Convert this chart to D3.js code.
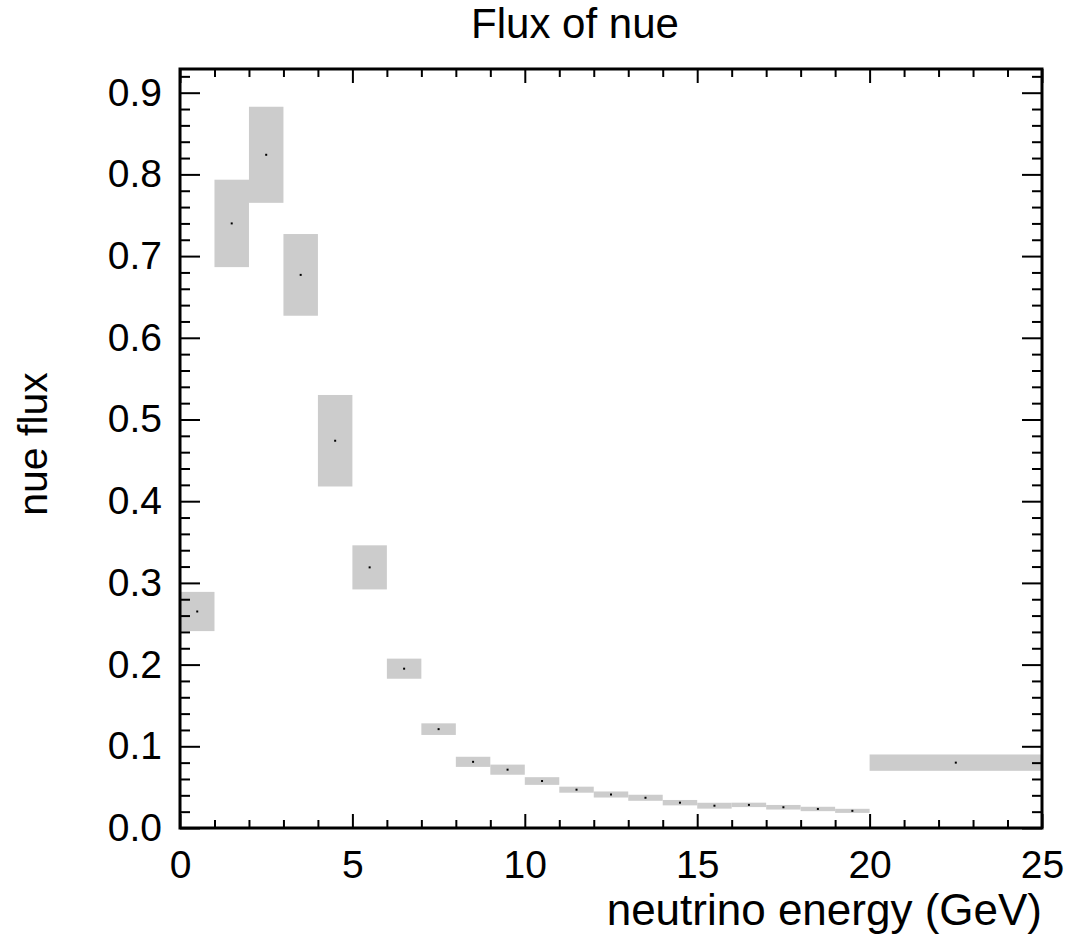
<!DOCTYPE html>
<html>
<head>
<meta charset="utf-8">
<script src="https://cdn.jsdelivr.net/npm/d3@7"></script>
<style>
  html, body { margin: 0; padding: 0; background: #fff; }
  svg { display: block; }
  text { font-family: "Liberation Sans", Arial, Helvetica, sans-serif; fill: #000; }
</style>
</head>
<body>
<svg id="chart" width="1071" height="936"></svg>
<script>
// Energy bin edges (GeV): unit bins up to 20, then one wide bin 20-25
const binEdges = [0, 1, 2, 3, 4, 5, 6, 7, 8, 9, 10, 11, 12, 13, 14, 15, 16, 17, 18, 19, 20, 25];
// nue flux per bin and its symmetric uncertainty
const flux = [0.265, 0.740, 0.824, 0.677, 0.474, 0.319, 0.195, 0.121, 0.081, 0.0714,
              0.0575, 0.0469, 0.041, 0.037, 0.031, 0.0273, 0.0283, 0.0254, 0.0233, 0.0210, 0.080];
const fluxErr = [0.024, 0.0535, 0.0588, 0.050, 0.056, 0.027, 0.0123, 0.0071, 0.0062, 0.0062,
                 0.0047, 0.0037, 0.0037, 0.0037, 0.0033, 0.0036, 0.0027, 0.0028, 0.0027, 0.0025, 0.010];
// Axis ticks
const xMajorTicks = [0, 5, 10, 15, 20, 25];
const xMinorTicks = d3.range(0, 26, 1).filter(v => v % 5 !== 0);
const yMajorTicks = [0.0, 0.1, 0.2, 0.3, 0.4, 0.5, 0.6, 0.7, 0.8, 0.9];
const yMinorTicks = d3.range(0, 47).map(i => +(i * 0.02).toFixed(2)).filter((v, i) => i % 5 !== 0);

const titleText = "Flux of nue";
const xTitle = "neutrino energy (GeV)";
const yTitle = "nue flux";

const frame = { left: 180, right: 1042, top: 69, bottom: 828 };
const svg = d3.select("#chart");
svg.append("rect").attr("width", 1071).attr("height", 936).attr("fill", "#fff");

const x = d3.scaleLinear().domain([0, 25]).range([frame.left, frame.right]);
const y = d3.scaleLinear().domain([0, 0.929]).range([frame.bottom, frame.top]);

const bins = flux.map((v, i) => ({ lo: binEdges[i], hi: binEdges[i + 1], v, e: fluxErr[i] }));

// Error boxes
svg.append("g").selectAll("rect").data(bins).join("rect")
  .attr("x", d => x(d.lo))
  .attr("width", d => x(d.hi) - x(d.lo))
  .attr("y", d => y(d.v + d.e))
  .attr("height", d => y(d.v - d.e) - y(d.v + d.e))
  .attr("fill", "#cccccc");

// Central value markers
svg.append("g").selectAll("rect").data(bins).join("rect")
  .attr("x", d => x((d.lo + d.hi) / 2) - 1)
  .attr("y", d => y(d.v) - 1)
  .attr("width", 2).attr("height", 2)
  .attr("fill", "#000");

const fontSize = 39;
function styleAxis(g) {
  g.select(".domain").remove();
  g.selectAll(".tick line").attr("stroke", "#000").attr("stroke-width", 2);
  g.selectAll(".tick text").attr("font-size", fontSize)
    .attr("font-family", "Liberation Sans, Arial, sans-serif").attr("fill", "#000");
}

// Bottom axis
svg.append("g").attr("transform", `translate(0,${frame.bottom})`)
  .call(d3.axisBottom(x).tickValues(xMajorTicks).tickSize(-14).tickPadding(22).tickFormat(d3.format("d")))
  .call(styleAxis);
svg.append("g").attr("transform", `translate(0,${frame.bottom})`)
  .call(d3.axisBottom(x).tickValues(xMinorTicks).tickSize(-8).tickFormat(""))
  .call(styleAxis);
// Top axis
svg.append("g").attr("transform", `translate(0,${frame.top})`)
  .call(d3.axisTop(x).tickValues(xMajorTicks).tickSize(-14).tickFormat(""))
  .call(styleAxis);
svg.append("g").attr("transform", `translate(0,${frame.top})`)
  .call(d3.axisTop(x).tickValues(xMinorTicks).tickSize(-8).tickFormat(""))
  .call(styleAxis);
// Left axis
svg.append("g").attr("transform", `translate(${frame.left},0)`)
  .call(d3.axisLeft(y).tickValues(yMajorTicks).tickSize(-20).tickPadding(18).tickFormat(d3.format(".1f")))
  .call(styleAxis);
svg.append("g").attr("transform", `translate(${frame.left},0)`)
  .call(d3.axisLeft(y).tickValues(yMinorTicks).tickSize(-10).tickFormat(""))
  .call(styleAxis);
// Right axis
svg.append("g").attr("transform", `translate(${frame.right},0)`)
  .call(d3.axisRight(y).tickValues(yMajorTicks).tickSize(-20).tickFormat(""))
  .call(styleAxis);
svg.append("g").attr("transform", `translate(${frame.right},0)`)
  .call(d3.axisRight(y).tickValues(yMinorTicks).tickSize(-10).tickFormat(""))
  .call(styleAxis);

// Frame
svg.append("rect")
  .attr("x", frame.left).attr("y", frame.top)
  .attr("width", frame.right - frame.left).attr("height", frame.bottom - frame.top)
  .attr("fill", "none").attr("stroke", "#000").attr("stroke-width", 3);

// Titles
svg.append("text").attr("x", 575).attr("y", 38).attr("text-anchor", "middle")
  .attr("font-size", 42).text(titleText);
svg.append("text").attr("x", frame.right).attr("y", 925).attr("text-anchor", "end")
  .attr("font-size", 44).text(xTitle);
svg.append("text").attr("transform", "translate(47,444) rotate(-90)").attr("text-anchor", "middle")
  .attr("font-size", 41).text(yTitle);
</script>
</body>
</html>
